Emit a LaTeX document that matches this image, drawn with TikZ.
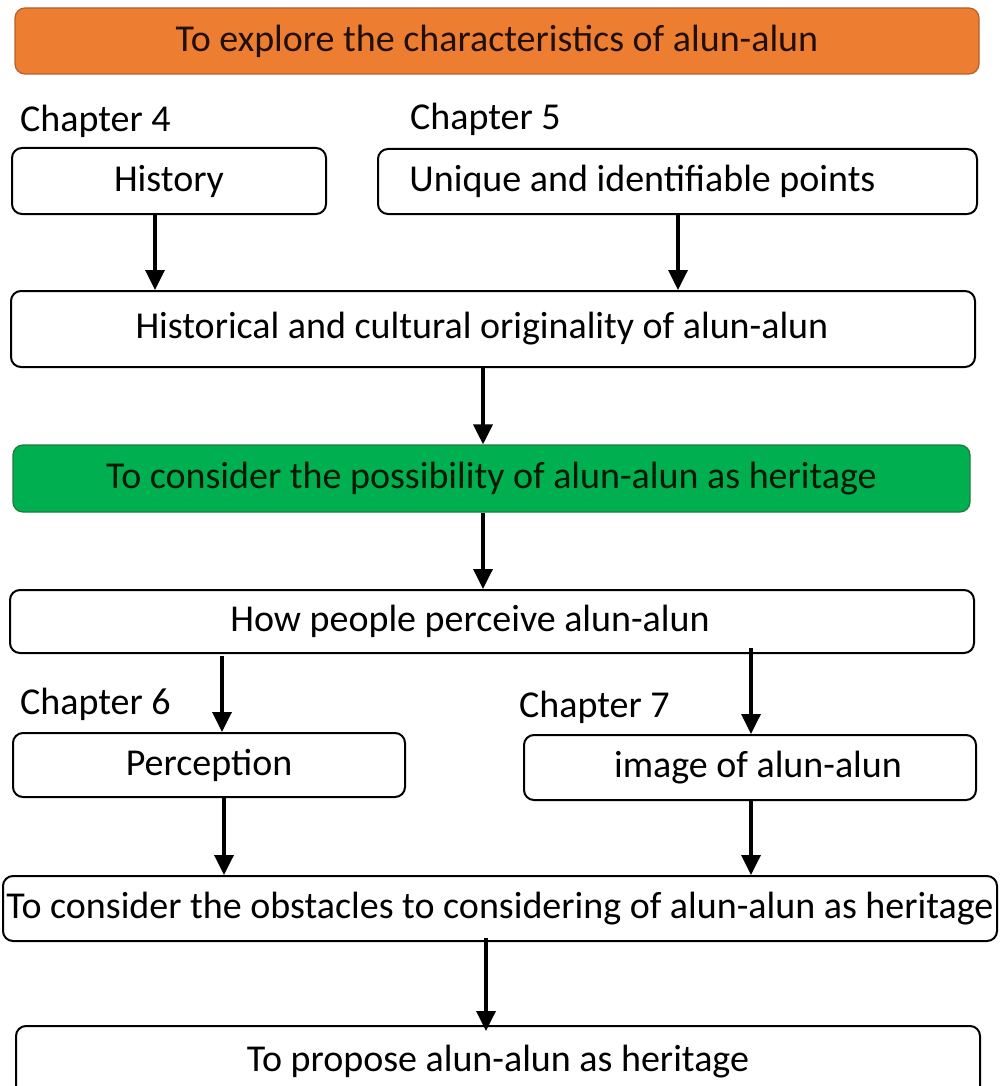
\documentclass[tikz,border=0pt]{standalone}
\usepackage{fontspec}
\setmainfont{Carlito}
\usetikzlibrary{arrows.meta}
\definecolor{orng}{HTML}{ED7D31}
\definecolor{orngb}{HTML}{B5602A}
\definecolor{grn}{HTML}{00B050}
\definecolor{grnb}{HTML}{1F7A3A}
\definecolor{dtxt}{HTML}{201008}
\tikzset{
  box/.style={draw=black, line width=2pt, rounded corners=10pt, fill=white, inner sep=0pt,
    font=\fontsize{38}{44}\selectfont},
  orbox/.style={box, fill=orng, draw=orngb, line width=1.2pt, text=dtxt},
  grbox/.style={box, fill=grn, draw=grnb, line width=1.2pt, text=black!90!green},
  chap/.style={anchor=west, inner sep=0pt, font=\fontsize{38}{44}\selectfont},
  arr/.style={line width=3.5pt, -{Triangle[length=20pt,width=19pt]}}
}
\begin{document}
\begin{tikzpicture}[x=1pt,y=-1pt]
\useasboundingbox (0,0) rectangle (1001,1086);
% boxes
\node[orbox, minimum width=964pt, minimum height=66pt] (goal1) at (497,41) {To explore the characteristics of alun-alun};
\node[chap] (c4) at (20,121) {Chapter 4};
\node[chap] (c5) at (410,119) {Chapter 5};
\node[box, minimum width=314pt, minimum height=66pt] (hist) at (169,181) {History};
\node[box, minimum width=599pt, minimum height=65pt] (uniq) at (677.5,181.5) {Unique and identifiable points\hspace*{70pt}};
\node[box, minimum width=964pt, minimum height=76pt] (orig) at (493,329) {Historical and cultural originality of alun-alun\hspace*{22pt}};
\node[grbox, minimum width=957pt, minimum height=67pt] (goal2) at (491.5,478.5) {To consider the possibility of alun-alun as heritage};
\node[box, minimum width=964pt, minimum height=63pt] (perc) at (492,621.5) {How people perceive alun-alun\hspace*{44pt}};
\node[chap] (c6) at (20,704) {Chapter 6};
\node[chap] (c7) at (519,707) {Chapter 7};
\node[box, minimum width=392pt, minimum height=64pt] (percep) at (209,765) {Perception};
\node[box, minimum width=452pt, minimum height=65pt] (img) at (750,767.5) {\hspace*{16pt}image of alun-alun};
\node[box, minimum width=994pt, minimum height=65pt] (obst) at (500,908.5) {To consider the obstacles to considering of alun-alun as heritage};
\node[box, minimum width=964pt, minimum height=72pt] (prop) at (498,1062) {To propose alun-alun as heritage};
% arrows
\draw[arr] (hist.south -| 155,0) -- (orig.north -| 155,0);
\draw[arr] (uniq.south -| 678,0) -- (orig.north -| 678,0);
\draw[arr] (orig.south -| 483,0) -- (goal2.north -| 483,0);
\draw[arr] (goal2.south -| 483,0) -- (perc.north -| 483,0);
\draw[arr] ([yshift=-2pt]perc.south -| 222,0) -- (percep.north -| 222,0);
\draw[arr] ([yshift=6pt]perc.south -| 751,0) -- (img.north -| 751,0);
\draw[arr] (percep.south -| 224,0) -- (obst.north -| 224,0);
\draw[arr] ([yshift=2pt]img.south -| 751,0) -- (obst.north -| 751,0);
\draw[arr] ([yshift=4pt]obst.south -| 486,0) -- ([yshift=-6pt]prop.north -| 486,0);
\end{tikzpicture}
\end{document}
